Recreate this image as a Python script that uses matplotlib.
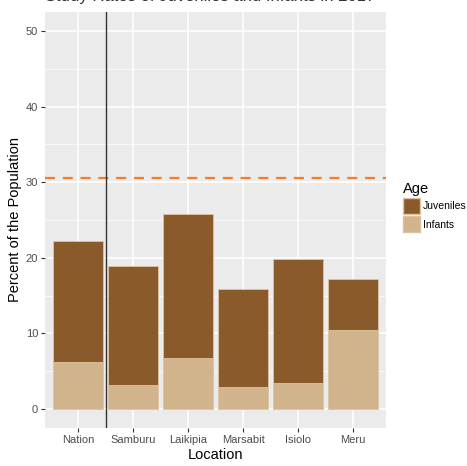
import matplotlib
matplotlib.use("Agg")
import matplotlib.pyplot as plt
import numpy as np
from matplotlib.patches import Patch

plt.rcParams["font.family"] = ["Liberation Sans", "DejaVu Sans"]

locations = ["Nation", "Samburu", "Laikipia", "Marsabit", "Isiolo", "Meru"]
infants = [6.25, 3.25, 6.8, 2.95, 3.4, 10.4]
totals = [22.2, 18.9, 25.8, 15.9, 19.8, 17.2]
juveniles = [t - i for t, i in zip(totals, infants)]
reference_line = 30.5
yticks = [0, 10, 20, 30, 40, 50]

juv_color = "#8B5A2B"
inf_color = "#D2B48C"
grey = "#4D4D4D"

fig = plt.figure(figsize=(4.67, 4.66), dpi=100)
ax = fig.add_axes([45/467, 1 - 428/466, (386-45)/467, (428-12)/466])
ax.set_facecolor("#EBEBEB")

x = np.arange(1, len(locations) + 1)
ax.bar(x, infants, width=0.9, color=inf_color, edgecolor="#DCC4A2", linewidth=0.6, zorder=3)
ax.bar(x, juveniles, bottom=infants, width=0.9, color=juv_color, edgecolor="#DCC4A2", linewidth=0.6, zorder=3)

ax.axhline(reference_line, color="#EF7F2F", linestyle=(0, (4.5, 3.5)), linewidth=1.6, zorder=4)
ax.axvline(1.5, color="#333333", linewidth=1.0, zorder=4)

ax.set_xlim(0.4, 6.6)
ax.set_ylim(-2.5, 52.5)
ax.set_xticks(x)
ax.set_xticklabels(locations)
ax.set_yticks(yticks)
ax.set_yticks([5, 15, 25, 35, 45], minor=True)
ax.grid(which="major", color="white", linewidth=1.1, zorder=0)
ax.grid(which="minor", axis="y", color="white", linewidth=0.5, zorder=0)
ax.tick_params(which="minor", length=0)
ax.tick_params(which="major", length=3, color="#333333", labelsize=8, labelcolor=grey, pad=2)
for s in ax.spines.values():
    s.set_visible(False)
ax.set_axisbelow(True)

ax.set_xlabel("Location", fontsize=10.5, color="black", labelpad=2)
ax.set_ylabel("Percent of the Population", fontsize=10.5, color="black", labelpad=3)

handles = [Patch(facecolor=juv_color, edgecolor="#DCC4A2", label="Juveniles"),
           Patch(facecolor=inf_color, edgecolor="#DCC4A2", label="Infants")]
leg = fig.legend(handles=handles, title="Age", loc="upper left",
                 bbox_to_anchor=(403/467, 1 - 182/466), frameon=False,
                 fontsize=7.5, title_fontsize=10.5, handlelength=1.6, handleheight=2.0,
                 handletextpad=0.3, labelspacing=0.2, borderaxespad=0, borderpad=0)
leg._legend_box.align = "left"

fig.text(45/467, 1 - 4/466, "Study Rates of Juveniles and Infants in 2017", fontsize=12,
         color="#333333", ha="left", va="bottom")

fig.savefig("out.png", dpi=100)
